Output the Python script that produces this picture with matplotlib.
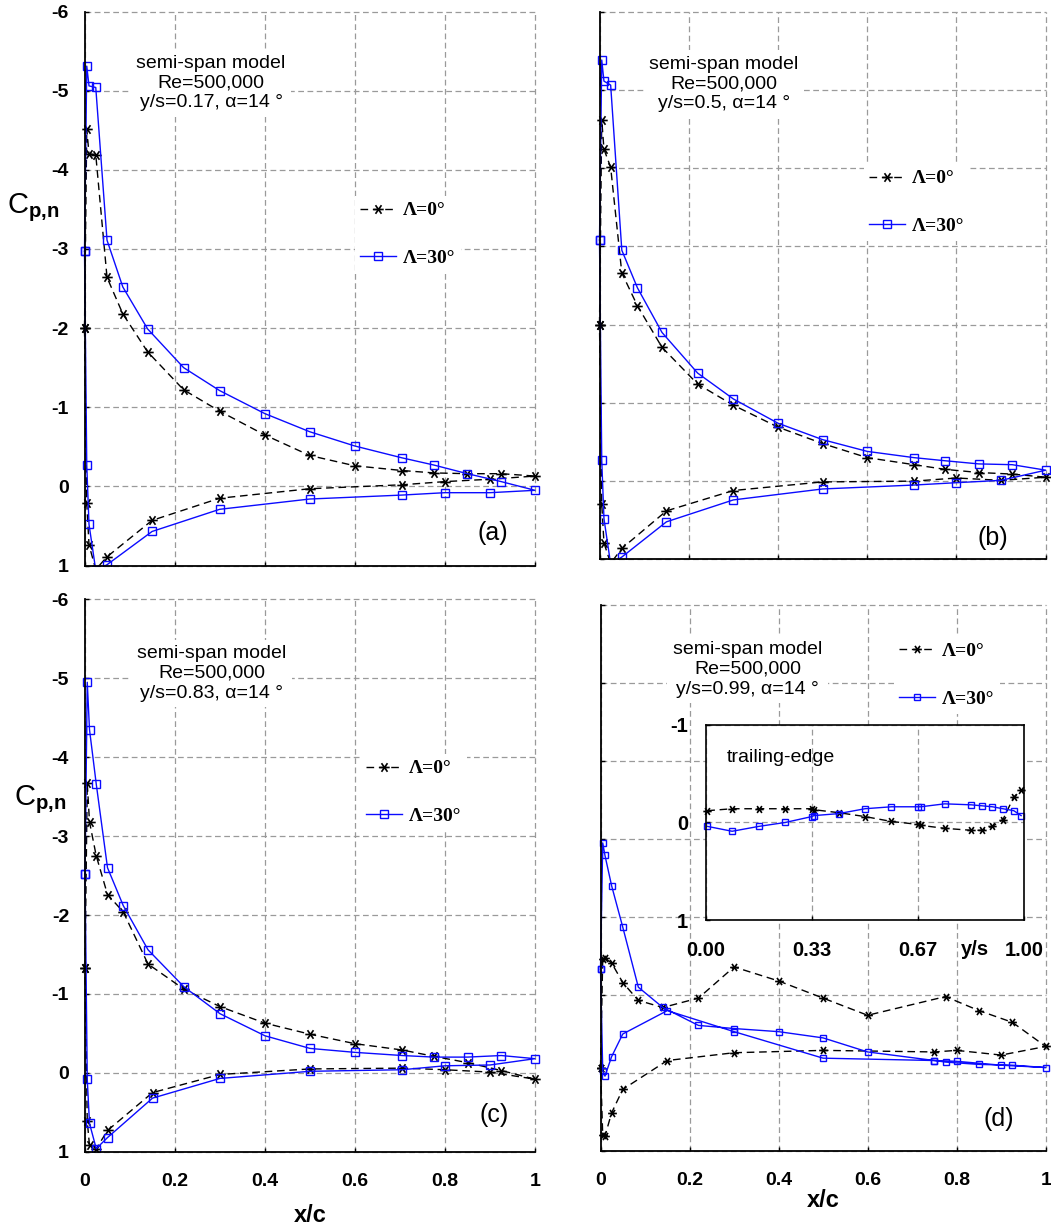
import numpy as np
import matplotlib
matplotlib.use("Agg")
import matplotlib.pyplot as plt
from matplotlib.path import Path
from matplotlib.transforms import Bbox, TransformedBbox
from matplotlib.font_manager import FontProperties

plt.rcParams["font.family"] = ["Liberation Sans", "DejaVu Sans"]
plt.rcParams["axes.unicode_minus"] = False
plt.rcParams["mathtext.fontset"] = "custom"
plt.rcParams["mathtext.rm"] = "Liberation Sans"
plt.rcParams["mathtext.bf"] = "Liberation Sans:bold"

# ---------------------------------------------------------------- data
# chordwise tap positions (upper surface runs LE -> TE, lower excludes LE/TE)
x_upper = [0, 0.005, 0.01, 0.025, 0.05, 0.085, 0.14, 0.22, 0.30, 0.40,
           0.50, 0.60, 0.705, 0.775, 0.85, 0.925, 1.0]
x_lower = [0.005, 0.01, 0.025, 0.05, 0.15, 0.30, 0.50, 0.705, 0.80, 0.90]

# (a) y/s = 0.17
a_sw0_upper = [-2.00, -4.52, -4.20, -4.19, -2.64, -2.18, -1.70, -1.22, -0.95,
               -0.65, -0.39, -0.26, -0.20, -0.17, -0.16, -0.16, -0.13]
a_sw0_lower = [0.21, 0.74, 1.05, 0.89, 0.43, 0.15, 0.03, -0.02, -0.06, -0.09]
a_sw30_upper = [-2.97, -5.31, -5.06, -5.04, -3.11, -2.52, -1.99, -1.50, -1.21,
                -0.92, -0.69, -0.51, -0.36, -0.27, -0.16, -0.06, 0.05]
a_sw30_lower = [-0.27, 0.48, 1.06, 0.99, 0.57, 0.29, 0.16, 0.11, 0.08, 0.08]

# (b) y/s = 0.5
b_sw0_upper = [-2.00, -4.62, -4.24, -4.01, -2.66, -2.24, -1.71, -1.24, -0.97,
               -0.69, -0.48, -0.30, -0.21, -0.15, -0.11, -0.09, -0.05]
b_sw0_lower = [0.29, 0.79, 1.05, 0.86, 0.38, 0.12, 0.01, 0.00, -0.04, -0.01]
b_sw30_upper = [-3.08, -5.38, -5.11, -5.06, -2.95, -2.47, -1.90, -1.38, -1.05,
                -0.74, -0.53, -0.38, -0.30, -0.26, -0.22, -0.21, -0.14]
b_sw30_lower = [-0.27, 0.48, 1.06, 0.97, 0.52, 0.24, 0.10, 0.05, 0.02, -0.01]

# (c) y/s = 0.83
c_sw0_upper = [-1.33, -3.67, -3.18, -2.75, -2.26, -2.04, -1.38, -1.06, -0.84,
               -0.63, -0.49, -0.37, -0.29, -0.21, -0.13, -0.03, 0.08]
c_sw0_lower = [0.61, 0.92, 0.96, 0.73, 0.25, 0.02, -0.05, -0.06, -0.04, -0.01]
c_sw30_upper = [-2.52, -4.95, -4.35, -3.66, -2.60, -2.12, -1.56, -1.09, -0.75,
                -0.47, -0.31, -0.26, -0.22, -0.20, -0.20, -0.22, -0.18]
c_sw30_lower = [0.08, 0.64, 0.96, 0.82, 0.32, 0.07, -0.02, -0.04, -0.09, -0.10]

# (d) y/s = 0.99 (tip region, different tap layout)
d_x0_upper = [0, 0.005, 0.01, 0.025, 0.05, 0.085, 0.14, 0.22, 0.30, 0.40,
              0.50, 0.60, 0.775, 0.85, 0.925, 1.0]
d_sw0_upper = [-0.07, -1.46, -1.47, -1.41, -1.16, -0.93, -0.84, -0.96, -1.36,
               -1.18, -0.96, -0.74, -0.98, -0.80, -0.65, -0.34]
d_x0_lower = [0.005, 0.01, 0.025, 0.05, 0.15, 0.30, 0.50, 0.75, 0.80, 0.90]
d_sw0_lower = [0.80, 0.81, 0.51, 0.21, -0.16, -0.26, -0.29, -0.27, -0.29, -0.23]
d_x30_upper = [0, 0.005, 0.01, 0.025, 0.05, 0.085, 0.14, 0.22, 0.30, 0.40,
               0.50, 0.60, 0.75, 0.775, 0.85, 0.925, 1.0]
d_sw30_upper = [-1.33, -2.95, -2.79, -2.40, -1.87, -1.10, -0.84, -0.61, -0.57,
                -0.53, -0.45, -0.27, -0.16, -0.14, -0.11, -0.10, -0.07]
d_x30_lower = [0.005, 0.01, 0.025, 0.05, 0.15, 0.30, 0.50, 0.75, 0.80, 0.90]
d_sw30_lower = [-0.03, 0.04, -0.21, -0.50, -0.80, -0.53, -0.19, -0.16, -0.15, -0.10]

# trailing-edge pressure along the span (inset of panel d)
te_span = [0.005, 0.083, 0.167, 0.25, 0.333, 0.34, 0.417, 0.5, 0.583, 0.667,
           0.675, 0.75, 0.833, 0.867, 0.9, 0.933, 0.967, 0.99]
te_sw0 = [-0.12, -0.14, -0.14, -0.14, -0.14, -0.13, -0.10, -0.06, -0.01, 0.02,
          0.03, 0.06, 0.08, 0.08, 0.04, -0.03, -0.26, -0.33]
te_sw30 = [0.04, 0.09, 0.04, 0.00, -0.06, -0.07, -0.09, -0.14, -0.16, -0.16,
           -0.16, -0.19, -0.18, -0.17, -0.16, -0.14, -0.12, -0.07]

x_ticks = [0, 0.2, 0.4, 0.6, 0.8, 1.0]
x_ticklabels = ["0", "0.2", "0.4", "0.6", "0.8", "1"]
y_ticks = [-6, -5, -4, -3, -2, -1, 0, 1]
y_ticklabels = ["-6", "-5", "-4", "-3", "-2", "-1", "0", "1"]
inset_xticks = [0, 1 / 3, 2 / 3, 1]
inset_xticklabels = ["0.00", "0.33", "0.67", "1.00"]
inset_yticks = [-1, 0, 1]
inset_yticklabels = ["-1", "0", "1"]

labels = ["\u039b=0\u00b0", "\u039b=30\u00b0"]
captions = ["semi-span model\nRe=500,000\ny/s=0.17, \u03b1=14 \u00b0",
            "semi-span model\nRe=500,000\ny/s=0.5, \u03b1=14 \u00b0",
            "semi-span model\nRe=500,000\ny/s=0.83, \u03b1=14 \u00b0",
            "semi-span model\nRe=500,000\ny/s=0.99, \u03b1=14 \u00b0"]

# ---------------------------------------------------------------- styles
W, H = 1051, 1230
fig = plt.figure(figsize=(W / 100, H / 100), dpi=100)

ang = np.deg2rad(55)
ca, sa = np.cos(ang), np.sin(ang)
ASTERISK = Path([(-1, 0), (1, 0), (-ca, -sa), (ca, sa), (-ca, sa), (ca, -sa)],
                [Path.MOVETO, Path.LINETO] * 3)

BLUE = "#0b0bff"
GRID = dict(color="#9a9a9a", linewidth=0.9, linestyle=(0, (4.6, 2.8)))
TICK_SIZE = 14


def style0(ms=7.5):
    return dict(color="black", lw=1.0, ls=(0, (5.5, 3.4)), marker=ASTERISK,
                ms=ms, mew=1.2, mfc="none", mec="black")


def style30(ms=5.4):
    return dict(color=BLUE, lw=1.0, ls="-", marker="s", ms=ms, mew=1.0,
                mfc="none", mec=BLUE)


def px_axes(left, top, right, bottom):
    return fig.add_axes([left / W, 1 - bottom / H, (right - left) / W,
                         (bottom - top) / H])


def loop(ax, xu, cu, xl, cl, style, label):
    """Closed airfoil loop: LE -> upper -> TE -> lower -> LE."""
    x = list(xu) + list(xl[::-1]) + [xu[0]]
    y = list(cu) + list(cl[::-1]) + [cu[0]]
    line, = ax.plot(x, y, label=label, **style)
    line.set_clip_path(None)
    line.set_clip_box(TransformedBbox(Bbox([[-0.03, 0.0], [1.03, 1.03]]),
                                      ax.transAxes))
    return line


def setup(ax, show_y, show_x):
    ax.set_xlim(0, 1)
    ax.set_ylim(1, -6)
    ax.set_xticks(x_ticks)
    ax.set_yticks(y_ticks)
    ax.set_xticklabels(x_ticklabels if show_x else [], fontweight="bold")
    ax.set_yticklabels(y_ticklabels if show_y else [], fontweight="bold")
    ax.grid(True, **GRID)
    ax.set_axisbelow(True)
    for gl in ax.get_xgridlines() + ax.get_ygridlines():
        gl.set_clip_on(False)
    for s in ("top", "right"):
        ax.spines[s].set_visible(False)
    for s in ("left", "bottom"):
        ax.spines[s].set_linewidth(1.3)
    ax.tick_params(axis="both", direction="in", length=3, width=1.0,
                   labelsize=TICK_SIZE, colors="black")
    ax.tick_params(axis="x", pad=15)
    ax.tick_params(axis="y", pad=11.5)


legend_font = FontProperties(family="Liberation Serif", weight="bold", size=14)


def add_legend(ax, handles, left_px, center_px):
    ax.legend(handles=handles, labels=labels, loc="center left",
              bbox_to_anchor=(left_px / W, 1 - center_px / H),
              bbox_transform=fig.transFigure, frameon=True, facecolor="white",
              edgecolor="none", framealpha=1, fancybox=False,
              handlelength=1.85, handletextpad=0.35, labelspacing=1.55,
              borderpad=0.3, borderaxespad=0, numpoints=1, prop=legend_font)


def caption(ax, text, fx, fy):
    ax.text(fx, fy, text, transform=ax.transAxes, ha="center", va="center",
            multialignment="center", fontsize=14,
            bbox=dict(facecolor="white", edgecolor="none", pad=4))


def panel_tag(ax, tag, fx, fy):
    ax.text(fx, fy, tag, transform=ax.transAxes, ha="center", va="center",
            fontsize=18)


def cp_label(ax, fx, fy):
    ax.set_ylabel(r"$\mathrm{C}_{\mathbf{p{,}n}}$", rotation=0, fontsize=21)
    ax.yaxis.label.set_ha("center")
    ax.yaxis.label.set_va("center")
    ax.yaxis.set_label_coords(fx, fy)


def xc_label(ax, fy):
    ax.set_xlabel("x/c", fontsize=17, fontweight="bold")
    ax.xaxis.label.set_va("center")
    ax.xaxis.set_label_coords(0.5, fy)


# ---------------------------------------------------------------- (a)
ax_a = px_axes(84.5, 11.5, 535, 565.5)
setup(ax_a, True, False)
la0 = loop(ax_a, x_upper, a_sw0_upper, x_lower, a_sw0_lower, style0(), labels[0])
la30 = loop(ax_a, x_upper, a_sw30_upper, x_lower, a_sw30_lower, style30(), labels[1])
caption(ax_a, captions[0], 0.281, 0.871)
add_legend(ax_a, [la0, la30], 354.5, 234.5)
panel_tag(ax_a, "(a)", 0.907, 0.059)
cp_label(ax_a, -0.114, 0.645)

# ---------------------------------------------------------------- (b)
ax_b = px_axes(599.5, 11.5, 1045.7, 559.4)
setup(ax_b, False, False)
lb0 = loop(ax_b, x_upper, b_sw0_upper, x_lower, b_sw0_lower, style0(), labels[0])
lb30 = loop(ax_b, x_upper, b_sw30_upper, x_lower, b_sw30_lower, style30(), labels[1])
caption(ax_b, captions[1], 0.279, 0.868)
add_legend(ax_b, [lb0, lb30], 863.5, 202.5)
panel_tag(ax_b, "(b)", 0.882, 0.039)

# ---------------------------------------------------------------- (c)
ax_c = px_axes(85, 599.4, 535, 1151.8)
setup(ax_c, True, True)
lc0 = loop(ax_c, x_upper, c_sw0_upper, x_lower, c_sw0_lower, style0(), labels[0])
lc30 = loop(ax_c, x_upper, c_sw30_upper, x_lower, c_sw30_lower, style30(), labels[1])
caption(ax_c, captions[2], 0.281, 0.866)
add_legend(ax_c, [lc0, lc30], 360.5, 792.5)
panel_tag(ax_c, "(c)", 0.91, 0.067)
cp_label(ax_c, -0.10, 0.638)
xc_label(ax_c, -0.116)

# ---------------------------------------------------------------- (d)
ax_d = px_axes(600.5, 605, 1045.7, 1151)
setup(ax_d, False, True)
ld0 = loop(ax_d, d_x0_upper, d_sw0_upper, d_x0_lower, d_sw0_lower,
           style0(ms=6.3), labels[0])
ld30 = loop(ax_d, d_x30_upper, d_sw30_upper, d_x30_lower, d_sw30_lower,
            style30(ms=4.3), labels[1])
caption(ax_d, captions[3], 0.330, 0.882)
add_legend(ax_d, [ld0, ld30], 893.5, 675)
panel_tag(ax_d, "(d)", 0.895, 0.059)
xc_label(ax_d, -0.090)

# inset: trailing-edge Cp along the span
ax_in = px_axes(705.7, 724.5, 1024.3, 920.4)
ax_in.set_facecolor("white")
ax_in.set_xlim(0, 1)
ax_in.set_ylim(1, -1)
ax_in.set_xticks(inset_xticks)
ax_in.set_xticklabels(inset_xticklabels, fontweight="bold")
ax_in.set_yticks(inset_yticks)
ax_in.set_yticklabels(inset_yticklabels, fontweight="bold")
ax_in.grid(True, **GRID)
ax_in.set_axisbelow(True)
for s in ax_in.spines.values():
    s.set_linewidth(1.2)
ax_in.tick_params(axis="both", direction="in", length=3, width=1.0,
                  labelsize=TICK_SIZE + 0.5, colors="black")
ax_in.tick_params(axis="x", pad=15)
ax_in.tick_params(axis="y", pad=12.5)
ax_in.plot(te_span, te_sw0, clip_on=False, **style0(ms=6.0))
ax_in.plot(te_span, te_sw30, clip_on=False, **style30(ms=4.3))
ax_in.text(0.067, 0.832, "trailing-edge", transform=ax_in.transAxes,
           ha="left", va="center", fontsize=14)
ax_in.text(0.845, -0.146, "y/s", transform=ax_in.transAxes, ha="center",
           va="center", fontsize=TICK_SIZE + 0.5, fontweight="bold")

fig.savefig("out.png", dpi=100)
